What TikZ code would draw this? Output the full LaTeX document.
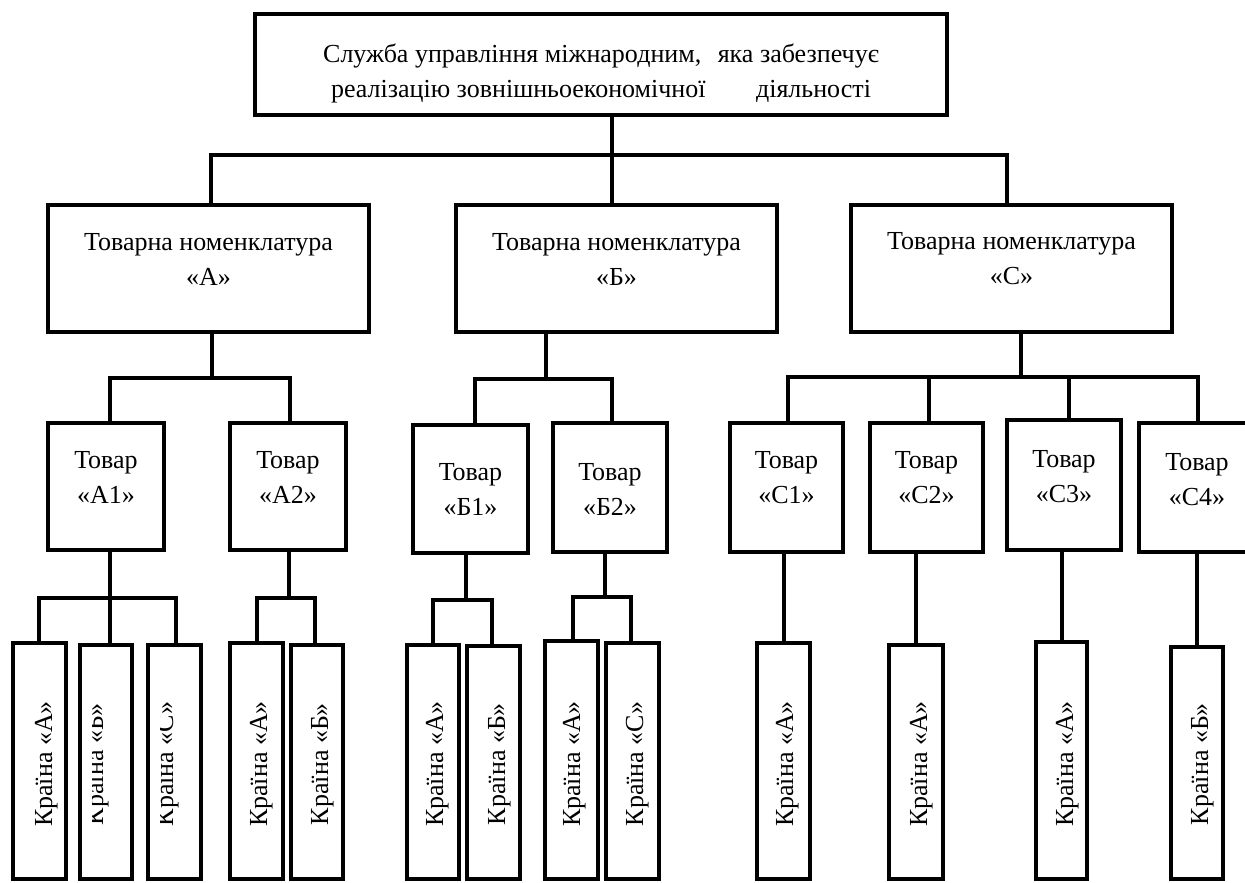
\documentclass[tikz,border=0pt]{standalone}
\usepackage{fontspec}
\setmainfont{Liberation Serif}
\usetikzlibrary{fit}
\begin{document}
\begin{tikzpicture}[x=0.5pt,y=-0.5pt,
  box/.style={draw, line width=2.3pt, inner sep=0pt, outer sep=0pt},
  conn/.style={line width=2pt},
  lbl/.style={font=\fontsize{13}{17.5}\selectfont, align=center, inner sep=0pt},
  ctext/.style={font=\fontsize{13}{16}\selectfont, rotate=90, anchor=base, inner sep=0pt}]
\useasboundingbox (0,0) rectangle (1245,882);
\clip (0,0) rectangle (1245,882);
% level 0
\node[box, fit={(255,14) (947,115)}] (top) {};
\node[lbl] (ttop) at (601,73) {Служба управління міжнародним,\hspace{5pt} яка забезпечує\\реалізацію зовнішньоекономічної\hspace{22pt} діяльності};
% level 1
\node[box, fit={(48,205) (369,332)}] (nA) {};
\node[box, fit={(456,205) (777,332)}] (nB) {};
\node[box, fit={(851,205) (1172,332)}] (nC) {};
\node[lbl] (tnA) at (208.5,259) {Товарна номенклатура\\«А»};
\node[lbl] (tnB) at (616.5,259) {Товарна номенклатура\\«Б»};
\node[lbl] (tnC) at (1011.5,259) {Товарна номенклатура\\«С»};
% level 2
\node[box, fit={(48,423) (164,550)}] (tA1) {};
\node[box, fit={(230,423) (346,550)}] (tA2) {};
\node[box, fit={(413,425) (528,553)}] (tB1) {};
\node[box, fit={(553,423) (667,552)}] (tB2) {};
\node[box, fit={(730,423) (843,552)}] (tC1) {};
\node[box, fit={(870,423) (983,552)}] (tC2) {};
\node[box, fit={(1007,420) (1121,550)}] (tC3) {};
\node[box, fit={(1139,423) (1258,552)}] (tC4) {};
\node[lbl] (ltA1) at (106,477) {Товар\\«А1»};
\node[lbl] (ltA2) at (288,477) {Товар\\«А2»};
\node[lbl] (ltB1) at (470.5,489) {Товар\\«Б1»};
\node[lbl] (ltB2) at (610,489) {Товар\\«Б2»};
\node[lbl] (ltC1) at (786.5,478) {Товар\\«С1»};
\node[lbl] (ltC2) at (926.5,478) {Товар\\«С2»};
\node[lbl] (ltC3) at (1064,477) {Товар\\«С3»};
\node[lbl] (ltC4) at (1197,480) {Товар\\«С4»};
% level 3
\node[box, fit={(13,643) (66,879)}] (cA1a) {};
\node[box, fit={(80,645) (132,879)}] (cA1b) {};
\node[box, fit={(148,645) (201,879)}] (cA1c) {};
\node[box, fit={(230,643) (283,879)}] (cA2a) {};
\node[box, fit={(291,645) (343,879)}] (cA2b) {};
\node[box, fit={(407,645) (459,879)}] (cB1a) {};
\node[box, fit={(467,646) (520,879)}] (cB1b) {};
\node[box, fit={(545,641) (598,879)}] (cB2a) {};
\node[box, fit={(606,643) (659,879)}] (cB2b) {};
\node[box, fit={(757,643) (810,879)}] (cC1) {};
\node[box, fit={(889,645) (943,879)}] (cC2) {};
\node[box, fit={(1036,642) (1087,879)}] (cC3) {};
\node[box, fit={(1171,647) (1223,879)}] (cC4) {};
\node[ctext] (xA1a) at (52,764) {Країна «А»};
\begin{scope}
\clip (92,650) rectangle (130,875);
\node[ctext] (xA1b) at (103,764) {Країна «Б»};
\end{scope}
\begin{scope}
\clip (160,650) rectangle (198,875);
\node[ctext] (xA1c) at (173,764) {Країна «С»};
\end{scope}
\node[ctext] (xA2a) at (267,764) {Країна «А»};
\node[ctext] (xA2b) at (328,764) {Країна «Б»};
\node[ctext] (xB1a) at (443,764) {Країна «А»};
\node[ctext] (xB1b) at (505,764) {Країна «Б»};
\node[ctext] (xB2a) at (580,764) {Країна «А»};
\node[ctext] (xB2b) at (643,764) {Країна «С»};
\node[ctext] (xC1) at (793,764) {Країна «А»};
\node[ctext] (xC2) at (927,764) {Країна «А»};
\node[ctext] (xC3) at (1073,764) {Країна «А»};
\node[ctext] (xC4) at (1208,764) {Країна «Б»};
% connectors level 0-1
\coordinate (j0) at (612,155);
\coordinate (jA) at (211,155);
\coordinate (jC) at (1007,155);
\draw[conn] (top.south -| j0) -- (j0) -- (nB.north -| j0);
\draw[conn] (nA.north -| jA) -- (jA) -- (jC) -- (nC.north -| jC);
% level 1-2
\coordinate (kA) at (212,378);
\coordinate (kA1) at (110,378);
\coordinate (kA2) at (290,378);
\draw[conn] (nA.south -| kA) -- (kA);
\draw[conn] (tA1.north -| kA1) -- (kA1) -- (kA2) -- (tA2.north -| kA2);
\coordinate (kB) at (546,379);
\coordinate (kB1) at (475,379);
\coordinate (kB2) at (612,379);
\draw[conn] (nB.south -| kB) -- (kB);
\draw[conn] (tB1.north -| kB1) -- (kB1) -- (kB2) -- (tB2.north -| kB2);
\coordinate (kC) at (1021,377);
\coordinate (kC1) at (788,377);
\coordinate (kC2) at (929,377);
\coordinate (kC3) at (1069,377);
\coordinate (kC4) at (1198,377);
\draw[conn] (nC.south -| kC) -- (kC);
\draw[conn] (tC1.north -| kC1) -- (kC1) -- (kC4) -- (tC4.north -| kC4);
\draw[conn] (kC2) -- (tC2.north -| kC2);
\draw[conn] (kC3) -- (tC3.north -| kC3);
% level 2-3
\coordinate (mA1) at (110,598);
\coordinate (mA1a) at (39,598);
\coordinate (mA1c) at (176,598);
\draw[conn] (tA1.south -| mA1) -- (cA1b.north -| mA1);
\draw[conn] (cA1a.north -| mA1a) -- (mA1a) -- (mA1c) -- (cA1c.north -| mA1c);
\coordinate (mA2) at (289,598);
\coordinate (mA2a) at (257,598);
\coordinate (mA2b) at (315,598);
\draw[conn] (tA2.south -| mA2) -- (mA2);
\draw[conn] (cA2a.north -| mA2a) -- (mA2a) -- (mA2b) -- (cA2b.north -| mA2b);
\coordinate (mB1) at (466,600);
\coordinate (mB1a) at (433,600);
\coordinate (mB1b) at (492,600);
\draw[conn] (tB1.south -| mB1) -- (mB1);
\draw[conn] (cB1a.north -| mB1a) -- (mB1a) -- (mB1b) -- (cB1b.north -| mB1b);
\coordinate (mB2) at (605,597);
\coordinate (mB2a) at (573,597);
\coordinate (mB2b) at (631,597);
\draw[conn] (tB2.south -| mB2) -- (mB2);
\draw[conn] (cB2a.north -| mB2a) -- (mB2a) -- (mB2b) -- (cB2b.north -| mB2b);
\draw[conn] (cC1.north) -- (cC1.north |- tC1.south);
\draw[conn] (cC2.north) -- (cC2.north |- tC2.south);
\draw[conn] (cC3.north) -- (cC3.north |- tC3.south);
\draw[conn] (cC4.north) -- (cC4.north |- tC4.south);
\end{tikzpicture}
\end{document}
